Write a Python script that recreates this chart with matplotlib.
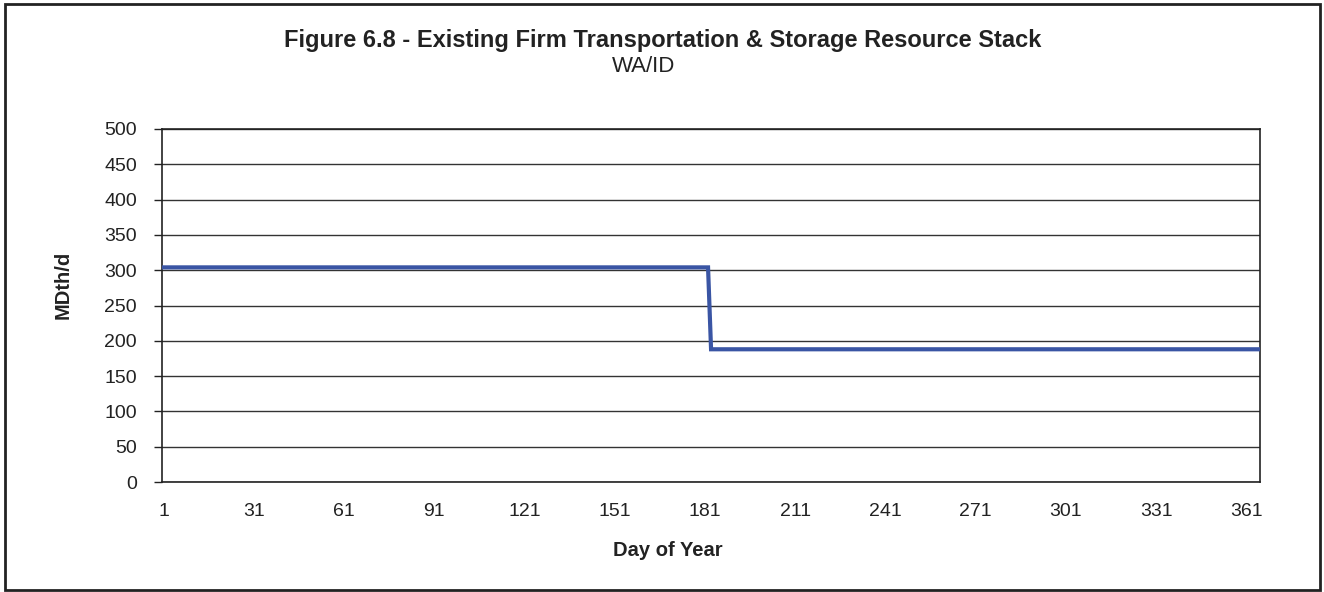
import matplotlib.pyplot as plt
from matplotlib.patches import Rectangle

plt.rcParams['font.family'] = ['Liberation Sans', 'DejaVu Sans']

# firm resource level by day of year (MDth/d)
days = list(range(1, 366))
level_first_half = 304   # days 1-182
level_second_half = 188  # days 183-365
step_day = 182
values = [level_first_half if d <= step_day else level_second_half for d in days]

x_ticks = list(range(1, 362, 30))
y_ticks = list(range(0, 501, 50))

fig = plt.figure(figsize=(13.24, 5.92), dpi=100)
ax = fig.add_axes([0.1224, 0.1858, 0.8293, 0.5963])

ax.plot(days, values, color="#3A55A4", lw=3, solid_joinstyle="miter", zorder=3)

ax.set_xlim(0.5, 365.5)
ax.set_ylim(0, 500)
ax.set_xticks(x_ticks)
ax.set_yticks(y_ticks)
ax.tick_params(axis="x", length=0, pad=15, labelsize=14, colors="#222222")
ax.tick_params(axis="y", length=6, direction="out", width=1, pad=12, labelsize=14,
               colors="#222222")
ax.grid(axis="y", color="#333333", lw=1)
ax.set_axisbelow(True)
for s in ax.spines.values():
    s.set_color("#222222")
    s.set_linewidth(1.2)

fig.text(668 / 1324, 1 - 550 / 592, "Day of Year", ha="center", va="center",
         fontsize=14.5, fontweight="bold", color="#222222")
fig.text(63 / 1324, 1 - 285 / 592, "MDth/d", rotation=90, fontsize=14.5, fontweight="bold",
         ha="center", va="center", color="#222222")

fig.text(663 / 1324, 1 - 40 / 592,
         "Figure 6.8 - Existing Firm Transportation & Storage Resource Stack",
         ha="center", va="center", fontsize=17, fontweight="bold", color="#222222")
fig.text(644 / 1324, 1 - 67 / 592, "WA/ID", ha="center", va="center", fontsize=16,
         color="#222222")

fig.patches.append(Rectangle((0.0035, 0.004), 0.9935, 0.9885, transform=fig.transFigure,
                             fill=False, edgecolor="#222222", lw=2))

fig.savefig("out.png", dpi=100)
